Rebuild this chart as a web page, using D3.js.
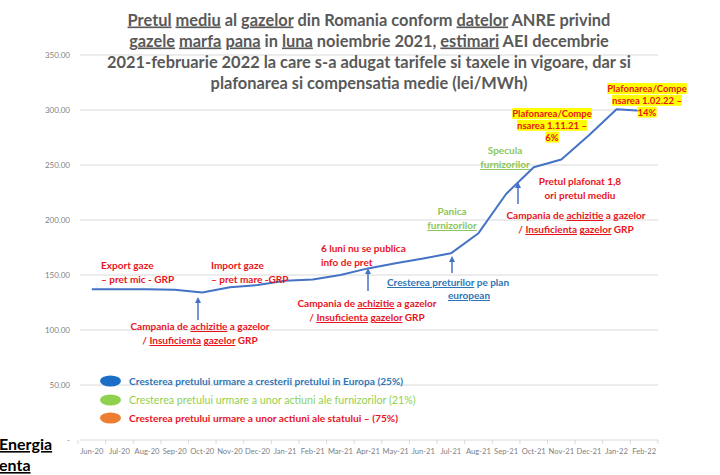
<!DOCTYPE html>
<html>
<head>
<meta charset="utf-8">
<script src="https://cdn.jsdelivr.net/npm/d3@7"></script>
<style>
  body { margin: 0; background: #fff; }
  text { font-family: Lato, "Open Sans", sans-serif; }
  .sp { text-decoration: underline dotted #e57373; text-decoration-thickness: 1px; }
</style>
</head>
<body>
<div class="chart"></div>
<script>
const width = 720
const height = 475

// monthly average gas price (lei/MWh)
const months = ['Jun-20','Jul-20','Aug-20','Sep-20','Oct-20','Nov-20','Dec-20','Jan-21','Feb-21','Mar-21',
  'Apr-21','May-21','Jun-21','Jul-21','Aug-21','Sep-21','Oct-21','Nov-21','Dec-21','Jan-22','Feb-22']
const prices = [137, 137, 137, 136.5, 134, 138.8, 140.9, 144.8, 146, 150,
  156, 160.6, 165, 169.7, 188, 223.6, 248, 255, 277, 300.6, 299]
const yTicks = [0, 50, 100, 150, 200, 250, 300, 350]

const titleLines = [
  [['Pretul', 1], [' ', 0], ['mediu', 1], [' al ', 0], ['gazelor', 1], [' din Romania conform ', 0], ['datelor', 1], [' ANRE privind', 0]],
  [['gazele', 1], [' ', 0], ['marfa', 1], [' ', 0], ['pana', 1], [' in ', 0], ['luna', 1], [' noiembrie  2021, ', 0], ['estimari', 1], [' AEI decembrie', 0]],
  [['2021-februarie 2022 la care s-a adugat tarifele si taxele in vigoare, dar si', 0]],
  [['plafonarea si compensatia medie (lei/MWh)', 0]]
]

const legendItems = [
  {dot: '#1a6ec7', color: '#2e75b6', label: 'Cresterea pretului urmare a cresterii pretului in Europa (25%)'},
  {dot: '#8fd14f', color: '#92d050', label: 'Cresterea pretului urmare a unor actiuni ale furnizorilor (21%)'},
  {dot: '#ed7d31', color: '#e8141c', label: 'Cresterea pretului urmare a unor actiuni ale statului \u2013 (75%)'}
]

const red = '#e8141c', green = '#8cc65a', blue = '#2e75b6'

// annotation text blocks: [x, y, anchor, color, lines]
const notes = [
  [101, 269, 'start', red, [[['Export gaze', 0]], [['\u2013 pret mic - GRP', 0]]]],
  [211, 269, 'start', red, [[['Import gaze', 0]], [['\u2013 pret mare -GRP', 0]]]],
  [200, 330, 'middle', red, [[['Campania de ', 0], ['achizitie', 1], [' a gazelor', 0]], [['/ ', 0], ['Insuficienta', 1], [' ', 0], ['gazelor', 1], [' GRP', 0]]]],
  [321, 252, 'start', red, [[['6 luni nu se publica', 0]], [['info de pret', 0]]]],
  [367, 307, 'middle', red, [[['Campania de ', 0], ['achizitie', 1], [' a gazelor', 0]], [['/ ', 0], ['Insuficienta', 1], [' ', 0], ['gazelor', 1], [' GRP', 0]]]],
  [387, 286, 'start', blue, [[['Cresterea preturilor', 1], [' pe plan', 0]]]],
  [448, 299, 'start', blue, [[['european', 1]]]],
  [452, 215, 'middle', green, [[['Panica', 0]], [['furnizorilor', 1]]]],
  [505, 154, 'middle', green, [[['Specula', 0]], [['furnizorilor', 1]]]],
  [580, 185, 'middle', red, [[['Pretul plafonat 1,8', 0]], [['ori pretul mediu', 0]]]],
  [576, 219, 'middle', red, [[['Campania de ', 0], ['achizitie', 1], [' a gazelor', 0]], [['/ ', 0], ['Insuficienta', 1], [' ', 0], ['gazelor', 1], [' GRP', 0]]]]
]

// highlighted notes: [x, y, lines]
const marks = [
  [552, 117, ['Plafonarea/Compe', 'nsarea 1.11.21 \u2013', '6%']],
  [647, 92, ['Plafonarea/Compe', 'nsarea 1.02.22 \u2013', '14%']]
]

// arrows: [x, yTop, yBottom]
const arrows = [[198, 298, 320], [368, 269, 291], [452, 257, 273], [518, 183, 204]]

const svg = d3.select('.chart').append('svg')
  .attr('width', width)
  .attr('height', height)
  .attr('viewBox', [0, 0, width, height])

const x = d3.scaleBand().domain(months).range([78, 658])
const y = d3.scaleLinear().domain([0, 350]).range([440, 55])

// gridlines
svg.append('g')
  .selectAll('line')
  .data(yTicks)
  .join('line')
  .attr('x1', 80).attr('x2', 658)
  .attr('y1', d => y(d)).attr('y2', d => y(d))
  .attr('stroke', '#d9d9d9')
  .attr('stroke-width', 1)

// y labels
svg.append('g')
  .selectAll('text')
  .data(yTicks)
  .join('text')
  .attr('x', 70)
  .attr('y', d => y(d) + 3)
  .attr('text-anchor', 'end')
  .attr('font-size', 8)
  .attr('fill', '#7f7f7f')
  .text(d => d === 0 ? '-' : d3.format('.2f')(d))

// x axis ticks between categories
svg.append('g')
  .selectAll('line')
  .data(months.map(m => x(m)).concat([x.range()[1]]))
  .join('line')
  .attr('x1', d => d).attr('x2', d => d)
  .attr('y1', 440).attr('y2', 444)
  .attr('stroke', '#d9d9d9')

svg.append('g')
  .selectAll('text')
  .data(months)
  .join('text')
  .attr('x', d => x(d) + x.bandwidth() / 2)
  .attr('y', 454)
  .attr('text-anchor', 'middle')
  .attr('font-size', 7.6)
  .attr('fill', '#7f7f7f')
  .text(d => d)

// the price line
const line = d3.line()
  .x((d, i) => x(months[i]) + x.bandwidth() / 2)
  .y(d => y(d))

svg.append('path')
  .datum(prices)
  .attr('d', line)
  .attr('fill', 'none')
  .attr('stroke', '#4472c4')
  .attr('stroke-width', 2)
  .attr('stroke-linejoin', 'round')

// title
const title = svg.append('text')
  .attr('text-anchor', 'middle')
  .attr('font-size', 16.4)
  .attr('font-weight', 'bold')
  .attr('fill', '#595959')

titleLines.forEach((parts, i) => {
  const row = title.append('tspan').attr('x', 369).attr('y', 25.5 + i * 21)
  parts.forEach(p => row.append('tspan').attr('class', p[1] ? 'sp' : null).text(p[0]))
})

// notes
notes.forEach(n => {
  const t = svg.append('text')
    .attr('text-anchor', n[2])
    .attr('font-size', 10)
    .attr('font-weight', 'bold')
    .attr('fill', n[3])
  n[4].forEach((parts, i) => {
    const row = t.append('tspan').attr('x', n[0]).attr('y', n[1] + i * 14)
    parts.forEach(p => row.append('tspan').attr('class', p[1] ? 'sp' : null).text(p[0]))
  })
})

// yellow highlighted notes
marks.forEach(m => {
  const g = svg.append('g')
  m[2].forEach((s, i) => {
    const t = g.append('text')
      .attr('x', m[0]).attr('y', m[1] + i * 11.8)
      .attr('text-anchor', 'middle')
      .attr('font-size', 9.5)
      .attr('font-weight', 'bold')
      .attr('fill', red)
      .text(s)
    const b = t.node().getBBox()
    g.insert('rect', 'text')
      .attr('x', b.x).attr('y', b.y)
      .attr('width', b.width).attr('height', b.height)
      .attr('fill', '#ffff00')
  })
})

// arrows
svg.append('defs').append('marker')
  .attr('id', 'head')
  .attr('viewBox', '0 0 10 10')
  .attr('refX', 5).attr('refY', 5)
  .attr('markerWidth', 4).attr('markerHeight', 4)
  .attr('orient', 'auto')
  .append('path')
  .attr('d', 'M0,0L10,5L0,10z')
  .attr('fill', '#4472c4')

svg.append('g')
  .selectAll('line')
  .data(arrows)
  .join('line')
  .attr('x1', d => d[0]).attr('x2', d => d[0])
  .attr('y1', d => d[2]).attr('y2', d => d[1] + 2)
  .attr('stroke', '#4472c4')
  .attr('stroke-width', 1.5)
  .attr('marker-end', 'url(#head)')

// legend
const legend = svg.append('g')
legendItems.forEach((d, i) => {
  const cy = [381, 400, 418][i]
  legend.append('ellipse')
    .attr('cx', 110.5).attr('cy', cy)
    .attr('rx', 10.5).attr('ry', 5.6)
    .attr('fill', d.dot)
  legend.append('text')
    .attr('x', 129).attr('y', cy + 3.6)
    .attr('font-size', i === 1 ? 10.7 : 10.2)
    .attr('font-weight', i === 1 ? 'normal' : 'bold')
    .attr('fill', d.color)
    .text(d.label)
})

// cropped source label at bottom left
const src = svg.append('text')
  .attr('font-size', 16)
  .attr('font-weight', 'bold')
  .attr('fill', '#000')
src.append('tspan').attr('x', -1).attr('y', 450).attr('class', 'sp').text('Energia')
src.append('tspan').attr('x', -1).attr('y', 471).attr('class', 'sp').text('enta')
</script>
</body>
</html>
